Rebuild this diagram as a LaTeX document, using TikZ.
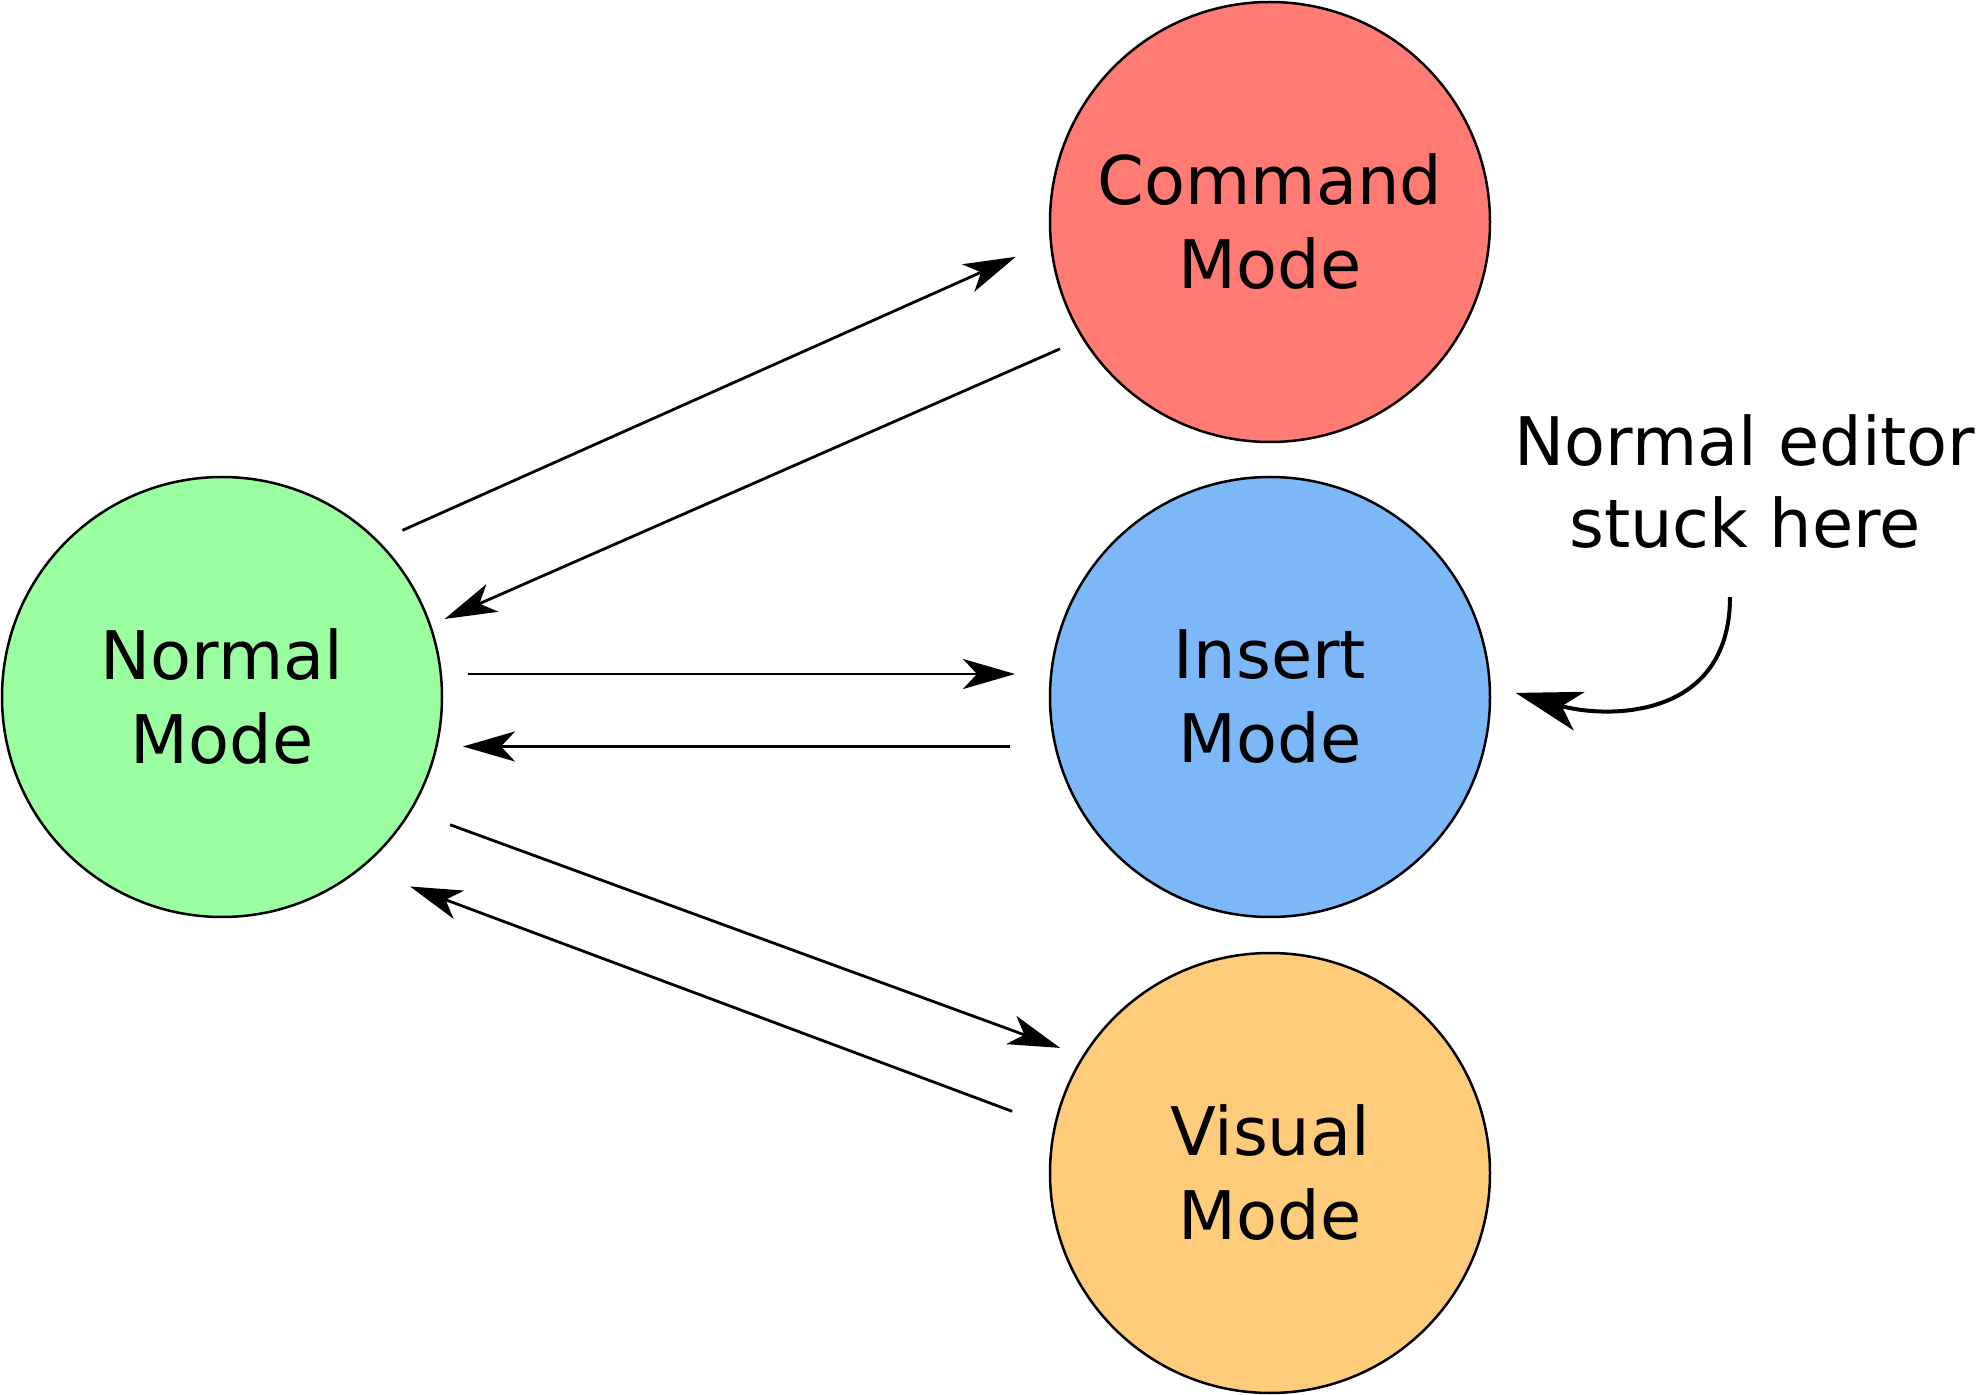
\documentclass[tikz,border=0pt]{standalone}
\usepackage{fontspec}
\setmainfont{DejaVu Sans}
\usetikzlibrary{arrows.meta}

\definecolor{normalgreen}{HTML}{9BFFA1}
\definecolor{commandred}{HTML}{FF7B73}
\definecolor{insertblue}{HTML}{7CB8F8}
\definecolor{visualorange}{HTML}{FFCC7C}

\tikzset{
  mode/.style={circle, draw, line width=1.25pt, minimum size=220pt,
    inner sep=0pt, outer sep=0pt, align=center,
    font=\fontsize{33.5}{42}\selectfont},
  trans/.style={line width=1.4pt, -{Stealth[length=26pt,width=15pt,inset=7pt]}},
  stuck/.style={line width=2pt, -{Stealth[length=33pt,width=20pt,inset=9pt]}},
}

\begin{document}
\begin{tikzpicture}[x=0.5pt, y=-0.5pt]
	\useasboundingbox (0,0) rectangle (1977,1395);
	% the four modes
	\node[mode, fill=normalgreen] (normal) at (222,697) {Normal\\Mode};
	\node[mode, fill=commandred] (command) at (1270,222) {Command\\Mode};
	\node[mode, fill=insertblue] (insert) at (1270,697) {Insert\\Mode};
	\node[mode, fill=visualorange] (visual) at (1270,1173) {Visual\\Mode};
	% transitions
	\draw [trans, shorten <=13.65pt, shorten >=19.2pt] (normal.45.9) -- (command.185.9);
	\draw [trans, shorten <=12.8pt, shorten >=8pt] (command.212.05) -- (normal.19.55);
	\draw [trans, shorten <=13.7pt, shorten >=17.5pt] (normal.6.52) -- (normal.6.52 -| insert.west);
	\draw [trans, shorten <=23pt, shorten >=10.5pt] (insert.193.4) -- (insert.193.4 -| normal.east);
	\draw [trans, shorten <=21.05pt, shorten >=12.4pt] (normal.-31.06) -- (visual.148.04);
	\draw [trans, shorten <=22.75pt, shorten >=26.45pt] (visual.168.14) -- (normal.-51.7);
	% the note
	\node[inner sep=0pt, align=center, font=\fontsize{33.5}{41}\selectfont] (note) at (1745,482) {Normal editor\\stuck here};
	\coordinate (bend) at (1730,597);
	\draw [stuck, shorten >=13.5pt] (bend) to[out=-90, in=-16, out distance=62pt, in distance=60pt] (insert.3);
\end{tikzpicture}
\end{document}
